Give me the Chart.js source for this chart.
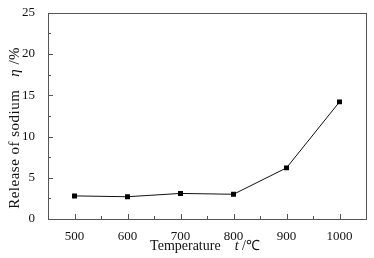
<!DOCTYPE html>
<html>
<head>
<meta charset="utf-8">
<script src="https://cdn.jsdelivr.net/npm/chart.js@4/dist/chart.umd.min.js"></script>
<style>
  html, body { margin: 0; padding: 0; background: #fff; }
  #wrap { width: 374px; height: 258px; }
</style>
</head>
<body>
<div id="wrap"><canvas id="c" width="374" height="258"></canvas></div>
<script>
// valores
var temperatures = [500, 600, 700, 800, 900, 1000];
var sodiumRelease = [2.8, 2.7, 3.1, 3.0, 6.2, 14.2];
// títulos dos eixos (partes em itálico marcadas)
var xTitleParts = [['Temperature', false], ['    ', false], ['t', true], [' /\u2103', false]];
var yTitleParts = [['Release of sodium', false], ['   ', false], ['\u03b7', true], [' /%', false]];

var points = temperatures.map(function(t, i){ return { x: t, y: sodiumRelease[i] }; });
var serif = '"Liberation Serif", "Times New Roman", serif';

// escreve um título com partes normais e itálicas, centrado em (cx, cy)
function drawTitle(ctx, parts, cx, cy, size, spacing, rotate){
  ctx.save();
  ctx.translate(cx, cy);
  if (rotate) ctx.rotate(-Math.PI / 2);
  ctx.fillStyle = '#111';
  ctx.textBaseline = 'middle';
  ctx.textAlign = 'left';
  if ('letterSpacing' in ctx) ctx.letterSpacing = spacing + 'px';
  var widths = parts.map(function(p){
    ctx.font = (p[1] ? 'italic ' : '') + size + 'px ' + serif;
    return ctx.measureText(p[0]).width;
  });
  var total = widths.reduce(function(a, b){ return a + b; }, 0);
  var x = -total / 2;
  parts.forEach(function(p, i){
    ctx.font = (p[1] ? 'italic ' : '') + size + 'px ' + serif;
    ctx.fillText(p[0], x, 0);
    x += widths[i];
  });
  ctx.restore();
}

// desenha a moldura, os ticks para dentro e os títulos
var frameTicks = {
  id: 'frameTicks',
  afterDraw: function(chart){
    var ctx = chart.ctx, a = chart.chartArea;
    var xs = chart.scales.x, ys = chart.scales.y;
    ctx.save();
    ctx.strokeStyle = '#555';
    ctx.lineWidth = 1;
    ctx.strokeRect(Math.round(a.left) + 0.5, Math.round(a.top) + 0.5,
                   Math.round(a.right - a.left), Math.round(a.bottom - a.top));
    ctx.beginPath();
    xs.ticks.forEach(function(t){
      var px = Math.round(xs.getPixelForValue(t.value)) + 0.5;
      var len = (t.value % 100 === 0) ? 5 : 3;
      ctx.moveTo(px, a.bottom);
      ctx.lineTo(px, a.bottom - len);
    });
    ys.ticks.forEach(function(t){
      var py = Math.round(ys.getPixelForValue(t.value)) + 0.5;
      var len = (t.value % 5 === 0) ? 5 : 3;
      ctx.moveTo(a.left, py);
      ctx.lineTo(a.left + len, py);
    });
    ctx.stroke();
    ctx.restore();

    drawTitle(ctx, xTitleParts, (a.left + a.right) / 2 - 2, 246, 14, 0, false);
    drawTitle(ctx, yTitleParts, 15, (a.top + a.bottom) / 2 + 12, 15, 0.5, true);
  }
};

var font = { family: serif, size: 13 };

new Chart(document.getElementById('c'), {
  type: 'scatter',
  data: {
    datasets: [{
      data: points,
      showLine: true,
      borderColor: '#111',
      borderWidth: 1,
      backgroundColor: '#000',
      pointStyle: 'rect',
      pointRadius: 3.5,
      pointBorderWidth: 0
    }]
  },
  options: {
    responsive: false,
    animation: false,
    devicePixelRatio: 1,
    layout: { padding: { top: 12, right: 8, left: 0, bottom: 0 } },
    plugins: { legend: { display: false }, tooltip: { enabled: false } },
    scales: {
      x: {
        type: 'linear',
        min: 450, max: 1050,
        grid: { display: false },
        border: { display: false },
        ticks: {
          stepSize: 50, color: '#111', font: font, padding: 2, maxRotation: 0,
          autoSkip: false,
          callback: function(v){ return v % 100 === 0 ? v : ''; }
        },
        afterFit: function(s){ s.height = 39; }
      },
      y: {
        min: 0, max: 25,
        grid: { display: false },
        border: { display: false },
        ticks: {
          stepSize: 2.5, color: '#111', font: font, padding: 5,
          autoSkip: false,
          callback: function(v){ return v % 5 === 0 ? v : ''; }
        },
        afterFit: function(s){ s.width = 48; }
      }
    }
  },
  plugins: [frameTicks]
});
</script>
</body>
</html>
